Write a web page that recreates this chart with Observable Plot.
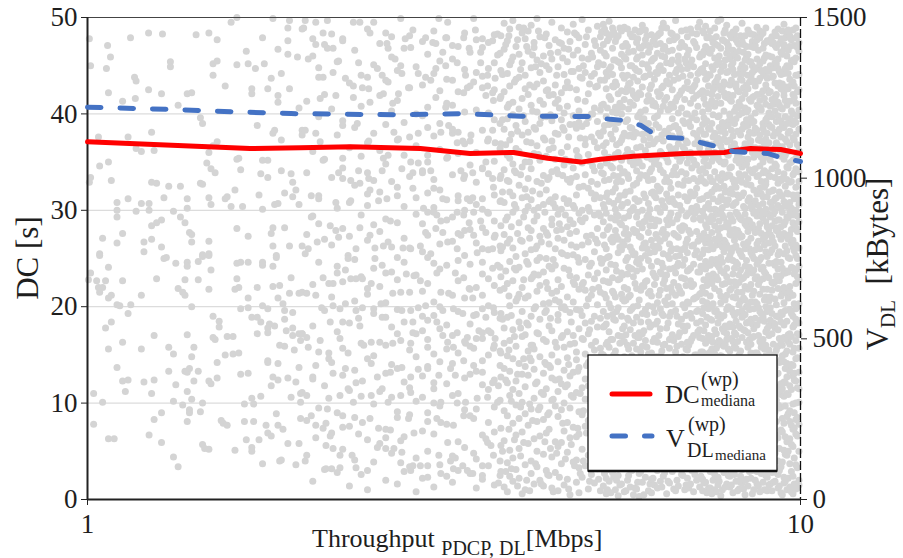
<!DOCTYPE html>
<html><head><meta charset="utf-8">
<script src="https://cdn.jsdelivr.net/npm/d3@7"></script>
<script src="https://cdn.jsdelivr.net/npm/@observablehq/plot@0.6"></script>
<style>
body{margin:0;background:#fff;}
#chart svg text, #chart svg tspan { font-family: 'Liberation Serif', 'Times New Roman', serif !important; }
</style>
</head><body><div id="chart"></div>
<script>
// ---- axis ticks ----
const xTicks = [1, 10];
const dcTicks = [0, 10, 20, 30, 40, 50];
const vTicks = [0, 500, 1000, 1500];

// ---- median lines ----
const dcMedX = [1.00, 1.69, 1.99, 2.34, 2.93, 3.44, 3.96, 4.42, 4.92, 5.24, 5.83, 6.85, 7.82, 8.07, 8.51, 9.38, 10.0];
const dcMedY = [37.1, 36.4, 36.5, 36.6, 36.4, 35.9, 36.0, 35.4, 35.0, 35.3, 35.6, 35.9, 36.0, 36.2, 36.4, 36.3, 35.9];
const vMedX = [1.00, 1.31, 1.59, 1.93, 2.75, 3.34, 4.05, 5.08, 5.41, 5.72, 5.97, 6.22, 6.51, 6.96, 7.24, 7.73, 8.05, 8.51, 8.99, 9.49, 10.0];
const vMedY = [1221, 1214, 1207, 1201, 1197, 1201, 1193, 1192, 1183, 1179, 1164, 1139, 1127, 1123, 1111, 1095, 1083, 1080, 1077, 1061, 1052];

// ---- scatter (throughput Mbps, DC s) ----
const scatterPairs = `
1.006,47.8 1.067,47.1 1.077,45.9 1.01,45.0 1.063,44.7 1.149,47.9 1.218,48.4 1.274,48.3 1.07,42.2 1.164,43.8 1.17,43.4 1.218,42.5 1.167,41.6 1.12,41.3 1.27,42.1 1.307,45.4 1.307,44.9 1.34,40.9 1.38,42.1 1.40,42.2 1.42,48.2 1.48,48.4 1.52,47.7 1.50,45.2 1.52,45.5 1.50,44.0 1.56,42.9 1.59,49.5 1.62,50.0 1.62,45.1 1.67,46.5 1.68,45.2 1.72,44.7 1.70,42.6 1.70,42.1 1.76,47.9 1.77,45.2 1.79,42.6 1.81,43.7 1.82,49.9 1.85,46.7 1.87,44.2 1.85,41.9 1.85,41.2 1.91,48.9 1.92,49.7 1.91,47.6 1.91,46.2 1.97,45.9 1.92,42.6 1.98,40.6 2.0,48.8 2.0,38.3
1.036,37.6 1.14,37.6 1.23,38.1 1.44,39.6 1.45,39.0 1.52,37.1 1.50,36.7 1.73,38.8 1.83,38.3 1.82,38.0 1.87,37.3 2.0,37.8
1.17,36.4 1.24,36.2 1.19,36.1 1.48,36.0 1.04,34.6 1.07,35.0 1.01,33.4 1.006,32.9 1.08,33.1 1.23,32.9 1.25,32.8 1.30,32.5 1.35,32.5 1.47,34.9 1.49,34.3 1.51,33.9 1.63,35.4 1.62,35.3 1.64,34.2 1.44,32.8 1.45,32.7 1.76,35.2 1.79,35.2 1.75,33.8 1.79,33.4 1.87,34.1 1.93,33.8 1.94,32.9 1.96,32.1
1.10,30.8 1.10,30.0 1.10,29.3 1.14,31.2 1.19,30.7 1.17,29.9 1.22,30.7 1.22,30.0 1.28,31.3 1.23,28.4 1.25,28.7 1.27,29.0 1.32,29.9 1.35,29.3 1.37,28.7 1.38,31.2 1.38,30.2 1.39,27.7 1.40,27.5 1.40,26.7 1.48,31.3 1.49,30.6 1.56,31.2 1.57,31.4 1.59,30.4 1.61,32.1 1.65,30.4 1.76,30.1 1.74,31.6 1.83,30.6 1.85,30.7 1.89,31.8 1.94,31.4 1.98,30.6 1.05,27.1 1.12,27.6 1.10,26.6 1.04,25.5 1.20,26.7 1.23,27.0 1.20,25.7 1.27,26.2 1.29,25.1 1.45,25.4 1.48,25.5 1.48,26.8 1.62,28.1 1.68,27.3 1.81,27.6 1.82,28.2 1.89,28.2 1.82,26.3 1.84,25.3 1.92,26.3 2.0,26.3
1.04,25.3 1.01,23.5 1.003,22.8 1.03,22.7 1.06,22.7 1.036,22.0 1.05,22.0 1.04,21.5 1.07,24.1 1.07,20.9 1.08,21.2 1.10,20.2 1.11,20.1 1.15,20.2 1.14,19.3 1.12,22.7 1.19,21.2 1.25,22.9 1.28,25.0 1.33,24.5 1.38,24.6 1.38,24.2 1.43,24.7 1.45,25.2 1.48,25.3 1.49,23.8 1.37,22.8 1.43,22.8 1.34,21.9 1.36,21.5 1.37,21.2 1.40,20.0 1.48,21.8 1.62,24.5 1.64,24.6 1.68,24.6 1.76,24.6 1.76,24.3 1.82,24.2 1.84,25.1 1.62,22.9 1.61,21.8 1.63,22.0 1.73,22.0 1.82,22.1 1.86,22.2 1.93,23.0 1.92,21.4 1.98,21.4 2.0,21.5 1.85,20.9 1.88,20.3 1.68,20.9 1.64,19.8 1.68,19.9 1.76,20.1 1.79,19.8 1.89,19.6 1.94,19.4 1.70,18.9 1.73,18.9 1.75,18.4 1.79,17.8 1.80,18.2 1.83,18.0 1.89,18.7 1.90,17.5 1.94,17.8 1.98,17.2 2.0,17.2 1.94,17.0 1.99,16.5 1.79,17.3 1.73,17.2 1.50,19.0 1.53,18.5 1.53,17.9 1.50,16.8 1.51,16.6 1.57,16.9 1.60,16.9 1.56,15.0 1.60,15.1 1.63,15.2 1.38,17.1 1.41,15.8 1.40,14.8 1.30,15.8 1.32,15.1 1.24,17.0 1.19,15.6 1.12,16.3 1.06,17.8 1.08,18.4 1.07,15.6 1.10,13.7 1.12,12.3 1.14,12.4 1.13,11.2 1.20,12.2 1.24,12.4 1.23,11.0 1.30,13.3 1.33,11.9 1.37,13.3 1.38,13.2 1.39,13.6 1.43,13.3 1.41,12.3 1.48,12.3 1.49,12.0 1.52,12.6 1.52,14.2 1.38,11.2 1.40,10.4 1.32,10.2 1.36,9.8 1.39,9.3 1.39,9.0 1.44,9.1 1.45,10.0 1.38,8.1 1.27,9.0 1.24,8.3 1.22,6.7 1.27,5.9 1.32,4.4 1.34,3.4 1.45,5.7 1.46,5.3 1.48,5.2 1.54,8.2 1.55,7.9 1.57,7.7 1.61,5.1 1.66,9.9 1.71,9.9 1.70,10.5 1.66,8.1 1.71,8.1 1.67,6.2 1.70,5.4 1.70,5.0 1.74,6.2 1.76,3.7 1.75,10.7 1.64,13.0 1.68,13.1 1.79,14.2 1.79,14.4 1.81,11.8 1.82,12.7 1.85,12.4 1.84,8.9 1.78,7.7 1.79,6.9 1.81,6.6 1.85,7.7 1.88,7.3 1.91,5.8 1.87,4.1 1.86,4.0 1.96,3.6 1.98,5.8 1.99,8.4 1.93,10.6 1.99,10.1 1.99,11.0 1.96,12.2 1.91,12.6 1.98,13.7 1.95,15.5 1.85,14.1 1.86,16.0 1.89,15.9 1.02,7.8 1.02,11.0 1.05,10.1 1.07,6.3 1.09,6.3
2.01,48.9 2.02,49.7 2.09,49.5 2.17,49.7 2.14,48.4 2.07,47.8 2.09,47.2 2.17,46.8 2.21,46.8 2.28,47.8 2.36,49.5 2.41,49.5 2.49,48.4 2.52,49.5 2.62,48.4 2.63,47.3 2.64,46.8 2.75,49.9 2.79,47.8 2.86,48.7 2.84,46.9 2.98,47.9 3.05,47.4 3.08,47.3 3.11,49.9 3.20,49.5 3.18,47.9 3.25,47.1 3.15,46.4 3.37,47.9 3.48,49.9 3.50,48.7 3.43,46.8 3.56,46.4 3.58,47.8 3.70,47.6 3.76,48.3 3.76,46.1
2.04,45.7 2.11,43.8 2.14,43.8 2.21,44.3 2.25,45.5 2.30,43.7 2.36,42.9 2.43,42.7 2.48,42.6 2.40,45.3 2.55,44.7 2.59,44.0 2.64,43.3 2.70,45.7 2.75,45.0 2.76,44.2 2.82,42.7 2.73,42.1 2.60,42.1 2.91,44.2 2.98,43.8 3.03,43.5 3.08,44.7 3.18,45.0 3.25,43.5 3.30,45.3 3.39,44.0 3.37,42.2 3.41,42.7 3.48,43.3 3.58,42.7 3.64,42.9 3.70,42.2 3.56,45.3 3.64,44.0 3.73,43.7 3.71,41.4 3.62,41.9 2.12,41.6 2.23,41.9 2.36,41.7 2.49,41.2 2.68,41.1 3.08,41.7 3.18,40.7
2.02,38.3 2.09,38.0 2.12,37.1 2.28,38.8 2.39,39.0 2.48,37.2 2.69,38.1 2.73,37.4 2.91,38.0 3.00,38.6 3.13,38.1 3.21,38.8 3.25,38.0 3.36,37.2 3.30,37.0 3.45,37.8 3.64,37.2 3.70,38.3 3.73,37.0
2.14,35.2 2.25,33.9 2.28,33.3 2.34,33.1 2.40,34.1 2.47,33.9 2.48,33.3 2.41,32.8 2.49,32.1 2.59,34.1 2.64,35.7 2.60,35.4 2.76,34.3 2.84,35.0 2.86,33.9 2.95,33.9 2.91,34.9 3.03,34.1 3.06,32.3 3.15,31.2 3.00,35.7 3.20,35.5 3.34,34.1 3.37,33.3 3.47,33.9 3.58,34.4 3.62,35.0 3.70,33.3 3.71,32.4 3.58,31.2 3.41,31.2 3.31,31.0 3.47,31.3 2.86,32.3 2.72,31.5 2.63,31.2 2.56,31.0 2.47,30.5 2.34,31.0 2.23,30.8 2.11,31.5 2.06,31.5 2.28,35.4
2.06,29.3 2.11,28.6 2.19,28.4 2.23,27.9 2.25,27.2 2.41,28.2 2.49,27.4 2.66,28.9 2.53,26.1 2.60,26.3 2.64,26.7 2.77,26.1 2.84,26.0 2.96,30.2 3.00,29.8 3.06,30.3 3.09,29.5 3.13,28.9 3.08,28.1 3.15,27.7 3.20,26.7 2.98,27.7 2.93,26.3 3.03,25.5 3.30,29.8 3.37,29.5 3.43,28.7 3.48,29.8 3.56,28.9 3.62,27.7 3.48,27.4 3.34,27.4 3.30,26.0 3.52,25.6 3.73,27.4 3.70,26.0 3.64,29.8 2.04,26.0 2.10,26.7 2.02,25.5 2.38,26.0 2.32,25.3
2.03,21.4 2.09,21.2 2.14,23.0 2.18,22.4 2.21,22.4 2.24,23.5 2.30,23.8 2.32,25.0 2.34,22.9 2.38,22.9 2.43,22.9 2.47,21.9 2.50,22.4 2.53,25.0 2.59,24.3 2.62,23.5 2.68,21.4 2.75,21.5 2.72,25.1 2.80,23.4 2.87,23.2 2.93,22.7 3.00,25.1 3.09,23.5 3.13,21.5 3.21,21.4 3.28,23.5 3.37,23.0 3.43,21.9 3.47,20.9 3.58,21.2 3.58,24.6 3.70,24.0 3.76,24.3
2.13,19.9 2.21,20.1 2.26,19.8 2.30,20.3 2.38,19.6 2.43,19.9 2.52,19.8 2.58,20.3 2.76,19.6 2.84,19.6 2.91,19.9 2.98,20.1 3.06,19.1 3.15,19.6 3.26,19.8 3.36,19.3 3.48,19.1 3.62,18.9 3.71,19.9 2.19,18.4 2.28,18.4 2.40,18.8 2.41,18.0 2.59,18.9 2.72,17.2 2.86,18.4 2.86,17.3 2.95,17.5 3.09,18.4 3.15,17.0 3.30,17.3 3.41,16.8 3.54,17.5 3.68,17.3 3.73,16.7
2.0,17.2 2.04,15.8 2.12,16.5 2.18,15.2 2.26,16.7 2.32,15.2 2.44,16.0 2.50,16.3 2.62,16.0 2.68,16.2 2.75,16.5 2.84,16.2 3.00,15.8 3.20,16.3 3.26,15.8 3.39,16.2 3.48,15.7 3.58,16.7 3.71,15.7 2.09,13.9 2.07,12.7 2.18,14.6 2.21,13.1 2.30,13.6 2.38,12.1 2.43,12.3 2.50,14.1 2.55,12.7 2.59,11.5 2.66,13.2 2.76,13.7 2.84,12.7 2.91,13.5 3.00,13.6 3.06,12.1 3.11,12.9 3.23,13.6 3.28,12.9 3.37,14.4 3.48,13.9 3.58,13.2 3.70,12.1 3.77,11.8
2.0,11.1 2.03,10.8 2.18,10.5 2.17,9.4 2.26,10.8 2.32,11.5 2.36,10.1 2.50,10.8 2.64,10.1 2.75,10.8 2.84,11.1 2.95,10.6 3.06,11.5 3.13,10.1 3.30,10.0 3.39,10.1 3.52,10.5 3.64,10.6 3.76,10.1 2.06,8.7 2.09,7.7 2.16,7.9 2.19,6.6 2.14,7.4 2.28,8.7 2.28,7.5 2.40,6.8 2.43,8.0 2.49,8.4 2.62,6.4 2.66,7.2 2.72,8.5 2.75,6.1 2.82,8.4 2.87,6.9 3.00,9.0 3.09,8.4 3.13,8.0 3.26,7.7 3.37,8.7 3.48,8.4 3.62,6.3 3.68,5.6 2.56,7.4
2.02,4.0 2.09,6.4 2.16,5.6 2.21,5.3 2.26,4.6 2.16,3.2 2.20,3.2 2.26,3.3 2.38,3.3 2.47,3.0 2.55,5.4 2.62,5.3 2.69,5.3 2.76,4.9 2.75,3.8 2.84,3.0 2.86,3.5 2.93,3.5 3.00,3.5 3.00,2.3 3.13,2.7 3.11,4.6 3.20,5.9 3.23,4.0 3.28,4.3 3.26,3.2 3.36,3.5 3.41,3.0 3.47,2.7 3.48,4.8 3.58,3.5 3.58,2.5 3.64,5.9 3.71,4.6 3.77,1.7 2.35,4.6
`;

// denser parts, listed by throughput column: throughput | DC values
const scatterColumns = `
2.03|8.2 27.5 41.3 16.8 33.9 4.6
2.07|36.1 12.5 22.3 46.0 29.4 1.9 18.0
2.11|24.6 44.8 9.5 31.2 15.3 39.7
2.15|3.1 19.6 35.3 47.2 27.0 11.8 42.0
2.20|40.5 14.2 26.4 6.9 33.4 21.0 48.3
2.24|17.4 30.2 45.4 2.8 37.8 9.0 24.2
2.28|47.6 22.6 12.9 39.3 5.2 28.1 34.4 15.7
2.33|27.3 7.6 43.2 18.3 36.5 1.4 30.8 11.3
2.37|13.4 38.6 24.9 46.6 8.5 20.6 32.6 4.1
2.42|35.6 2.6 29.5 16.2 44.0 10.7 23.1 40.8
2.47|21.3 48.8 14.6 37.0 6.2 31.7 26.9 1.0 43.8
2.52|9.9 33.1 19.3 45.1 3.9 28.5 38.0 14.9 24.0
2.57|41.9 16.3 27.8 5.8 36.2 11.2 47.3 22.1 31.9
2.62|2.0 29.1 20.4 43.5 13.1 38.9 7.3 34.8 18.9
2.67|26.2 10.6 45.9 17.9 33.0 4.8 40.3 23.6 14.0 48.0
2.72|37.3 13.6 1.6 28.7 22.8 44.5 9.1 32.4 19.7 41.4
2.78|18.4 46.8 30.4 6.5 24.6 39.1 12.2 35.7 2.9 27.1
2.83|42.7 8.8 21.5 33.5 15.5 48.1 26.1 3.4 37.6 11.6
2.89|29.6 4.3 17.2 44.9 36.7 10.2 23.3 40.0 14.8 31.3 0.8
2.95|12.8 39.8 25.7 7.1 47.5 19.0 34.1 28.6 2.2 43.0 21.6
3.00|35.0 16.6 46.2 8.1 27.4 40.7 13.8 22.4 31.8 5.0 18.6
3.06|24.5 1.3 37.7 15.1 44.2 29.8 10.0 33.2 20.5 48.6 6.8
3.12|45.5 20.0 9.7 32.1 26.5 39.0 3.6 14.3 42.4 23.9 17.7 36.3
3.19|7.8 29.0 41.1 18.1 35.4 12.0 47.9 24.3 2.4 31.1 15.6 43.6
3.25|33.7 14.1 26.8 4.5 38.4 21.2 45.7 10.8 29.3 17.0 40.9 1.8
3.31|19.5 42.3 11.0 35.9 27.6 6.0 47.0 22.7 31.5 15.2 38.1 3.0 24.8
3.38|40.2 5.4 25.3 16.4 44.6 30.0 12.6 36.9 20.9 9.3 33.6 48.4 27.9
3.44|13.0 31.0 46.4 21.8 2.7 37.2 18.2 28.0 42.9 8.7 24.4 34.7 15.9
3.51|26.6 44.3 9.4 19.2 36.0 4.2 30.6 13.3 40.4 22.0 47.7 16.7 32.9 1.2
3.58|38.3 17.3 28.2 6.7 43.9 23.4 11.9 34.3 2.1 46.9 19.8 30.1 14.4 26.0
3.65|11.4 33.8 20.1 47.4 3.5 25.9 40.1 15.0 29.7 8.0 37.4 22.9 44.7 17.5
3.72|22.2 45.3 7.0 31.6 16.0 39.4 1.5 27.2 12.4 35.1 48.2 19.4 42.5 9.6 28.9
3.79|30.9 13.9 41.6 4.0 24.1 36.4 18.8 46.3 10.3 33.3 21.7 2.5 39.0 26.3 15.4
3.80|23.1 7.4 41.8 15.2 33.6 2.9 48.1 28.4 12.7 36.9 19.3 44.5 5.6 31.0 25.8
3.82|18.7 44.1 5.0 31.9 26.2 39.4
3.84|9.2 46.7 17.8 38.4 1.3 27.5 21.9 34.2 13.6 42.3 6.1 30.8 49.4 16.2
3.86|2.9 23.7 36.8 12.4 47.2 29.0
3.88|35.7 12.1 3.8 44.2 26.6 18.9 39.5 8.7 29.3 47.6 22.4 0.8 14.9 33.1 40.7
3.90|41.0 15.5 7.3 33.0 21.1 48.1
3.91|27.0 5.1 42.9 16.5 37.3 10.8 24.7 48.8 31.9 2.4 20.1 45.1 13.3 35.4
3.93|10.2 28.3 45.5 19.1 37.9 3.2
3.95|17.6 39.9 7.9 29.8 45.9 22.7 1.9 34.8 11.4 26.1 49.7 14.6 41.2 4.3 31.5
3.97|34.1 6.2 24.0 43.3 16.9 30.6
3.99|43.6 20.6 9.8 36.4 25.2 3.1 47.0 15.9 30.2 12.3 38.8 23.8 6.7 33.9
4.01|20.9 47.7 13.0 1.4 38.2 27.6
4.03|11.0 28.7 46.2 18.4 40.5 2.2 32.6 24.1 8.4 43.8 14.1 36.1 21.3 49.0 5.3
4.05|44.6 26.9 9.6 33.7 17.8 4.5
4.07|37.8 16.9 26.8 0.6 45.3 10.1 31.3 22.0 41.6 7.0 34.5 19.5 48.4 13.0
4.09|5.9 39.8 22.8 14.6 48.9 29.3
4.11|25.5 3.6 39.2 13.8 29.9 47.8 20.9 8.9 35.0 17.1 44.0 1.0 32.2 11.7 42.6
4.13|31.4 18.3 47.0 2.0 24.7 37.1
4.15|7.7 42.0 18.1 33.3 24.4 46.5 12.9 38.1 5.8 28.2 15.4 21.1 48.6 30.4
4.17|14.7 35.0 0.9 27.1 43.0 9.9
4.19|31.1 14.4 44.8 4.0 22.9 37.0 9.4 27.9 49.2 19.0 40.9 2.7 34.3 16.0 25.9
4.21|40.3 23.1 8.2 46.1 32.0 16.0
4.23|19.8 46.9 10.5 35.9 1.6 28.9 23.4 42.8 13.5 6.3 38.6 30.0 15.6 47.4
4.25|26.0 12.0 38.4 3.7 20.0 44.9
4.27|40.2 8.1 26.3 17.3 45.6 33.0 3.4 21.6 36.7 12.2 29.4 49.9 5.0 24.8 43.1
4.29|9.3 30.3 48.6 17.2 35.8 23.3
4.31|2.0 35.2 22.2 14.8 48.0 27.3 9.6 41.4 18.7 31.7 6.6 39.0 25.1 44.3
4.33|45.2 1.6 26.7 11.1 39.6 32.8
4.36|28.1 13.1 43.4 20.3 4.7 37.5 16.6 33.6 10.9 46.0 23.6 1.4 30.6 41.0 8.3
4.38|19.4 37.3 6.0 29.8 14.2 47.9
4.40|16.4 45.0 6.9 32.1 25.0 39.7 11.5 19.6 48.3 3.0 35.6 27.7 14.0 42.4 22.5
4.42|33.2 8.8 42.5 21.9 2.6 27.4
4.44|36.3 9.0 24.2 47.1 18.0 30.9 2.5 41.9 13.9 26.5 7.3 44.6 33.4 20.4
4.46|13.7 46.3 31.1 5.3 18.8 39.9
4.48|23.9 4.4 39.3 15.0 29.1 49.5 10.3 34.0 21.4 45.7 1.2 17.5 37.2 12.6 28.5
4.50|36.5 24.9 0.8 42.0 10.4 30.7
4.53|12.4 43.0 31.4 6.0 20.7 38.0 26.0 47.7 16.3 2.8 35.3 9.7 41.1 24.3 30.3
4.55|4.8 21.6 44.0 15.8 34.2 27.9
4.57|41.5 18.6 8.6 33.8 27.1 46.4 0.9 22.8 14.3 37.9 11.2 29.6 5.5 44.9 19.2
4.59|28.6 40.6 12.5 47.4 2.3 20.5
4.62|5.9 30.1 47.3 19.9 36.0 12.0 25.6 42.2 3.7 16.8 39.4 28.0 9.3 48.9 22.1
4.64|17.0 33.6 7.9 25.5 45.8 38.6
4.66|34.7 15.8 26.9 44.1 7.1 20.0 38.3 1.5 31.2 13.4 46.8 24.0 10.0 40.1
4.68|42.7 4.2 29.5 19.7 11.7 35.3
4.71|21.0 2.1 45.4 11.9 28.3 36.6 17.4 48.5 8.0 33.2 25.3 40.8 14.7 4.9 30.7 43.3
4.73|23.8 46.7 14.0 1.1 37.6 31.0
4.75|9.5 38.9 23.2 0.5 32.9 16.1 47.5 27.6 12.8 42.7 19.4 6.4 35.1 29.0
4.77|10.8 33.3 26.4 44.4 18.4 5.7
4.80|46.1 13.2 30.5 20.5 3.9 39.8 25.4 10.6 34.4 17.0 44.4 7.5 28.6 49.3 22.6
4.82|38.9 16.2 3.5 30.2 48.4 22.3
4.85|27.8 6.5 42.5 15.3 36.2 1.8 23.0 31.6 11.1 48.2 19.7 38.5 4.1 33.5 14.5 26.2
4.87|7.4 25.1 41.5 13.3 35.6 46.6
4.89|17.7 35.5 3.3 44.7 24.6 9.1 29.7 40.3 13.7 21.8 47.9 6.8 32.4 39.1 0.7
4.91|29.0 19.6 2.7 43.8 11.0 37.5
4.94|38.7 11.6 22.3 49.8 30.0 5.2 16.7 43.7 26.4 8.8 34.9 19.1 45.8 2.3 28.8
4.96|45.0 32.5 9.2 22.5 16.6 4.0
4.99|3.5 29.2 18.3 41.3 12.5 37.4 24.9 47.2 7.6 33.7 15.1 21.7 44.3 10.4 36.8
5.01|20.1 39.0 27.3 6.9 48.0 13.9
5.04|32.3 20.8 45.7 1.1 26.7 14.2 39.6 8.2 30.3 48.7 17.2 4.6 35.8 23.3 42.1 11.8
5.06|35.1 1.9 17.6 29.9 43.1 24.2
5.09|14.0 43.9 6.2 24.5 37.6 18.5 2.6 31.8 10.7 46.3 27.4 21.2 40.0 16.0 33.0
5.11|12.1 45.9 34.6 8.0 21.8 40.0
5.14|25.7 8.5 40.6 19.0 47.6 12.3 34.1 4.2 29.5 22.9 44.2 15.5 37.1 1.7 31.2
5.16|27.0 5.6 42.8 16.4 31.6 47.1
5.19|44.9 17.9 3.2 28.1 36.5 10.2 23.5 49.1 13.6 39.2 6.7 32.7 20.2 26.6 42.9
5.21|38.0 22.0 10.9 2.1 29.7 45.3
5.24|6.1 34.6 21.5 46.6 15.7 29.4 0.9 40.4 25.0 11.3 37.7 18.8 48.0 8.9 31.3 43.5
5.26|15.1 33.9 24.5 48.5 7.0 40.9
5.29|12.6 38.2 3.9 27.4 45.1 19.5 8.3 33.8 22.7 49.3 15.0 41.0 30.6 1.4 24.9 36.7 10.8 47.2 17.9 28.8
5.31|7.8 33.1 21.3 46.3 14.1 38.8 2.7 26.4 43.5 18.0 30.2 10.6 48.8 36.0
5.34|31.4 6.8 44.3 20.9 14.5 39.7 2.2 26.0 48.4 11.7 34.9 18.2 42.6 23.8 9.4 29.7 0.6 37.0 16.1 46.0
5.36|40.6 16.3 28.0 4.4 35.2 22.6 47.6 11.9 31.8 1.0 25.1 43.9 19.0 8.8
5.39|20.3 47.9 9.9 35.5 25.2 3.1 41.8 15.8 30.9 12.9 44.6 22.5 6.0 38.9 28.3 17.4 49.6 33.2 1.9
5.42|24.4 3.5 44.9 13.3 37.9 29.2 9.0 48.2 19.9 34.6 0.7 41.5 16.6 27.0
5.45|42.9 16.6 27.2 4.5 37.4 10.3 23.0 46.8 31.9 13.7 40.2 7.7 19.2 34.4 26.7 48.9 2.8 21.6 44.1 11.0
5.47|12.9 45.6 30.7 21.4 6.1 39.0 15.0 26.9 48.5 2.3 35.4 18.7 42.8 33.6
5.50|8.6 29.0 45.6 18.6 35.8 1.0 24.3 40.7 13.2 32.3 21.0 47.5 5.3 38.4 15.4 27.9 43.3 10.5 30.1
5.52|36.8 19.5 2.0 27.3 43.0 10.9 32.9 23.7 47.9 7.6 14.8 40.1 29.6 4.9
5.55|36.0 14.3 2.5 25.6 42.1 19.9 48.1 8.0 31.1 22.8 39.1 11.4 45.4 27.0 4.7 17.0 33.5 29.4 40.6 0.4
5.58|1.5 28.7 41.1 16.2 34.4 8.6 45.3 22.9 12.3 37.0 26.2 48.9 5.8 31.5
5.61|23.5 46.2 10.0 33.0 16.9 40.0 5.6 28.5 21.3 44.8 1.6 37.3 13.0 30.4 48.6 19.0 25.9 8.8 35.2 42.4
5.63|44.0 11.6 23.3 37.6 3.8 30.6 17.7 47.0 26.7 8.3 40.7 14.0 20.8 33.9
5.66|3.4 31.6 18.0 43.7 26.4 11.9 38.0 22.0 49.0 7.2 34.0 14.8 41.5 29.2 0.8 20.6 45.9 16.4 27.6
5.69|20.7 35.7 6.7 47.3 13.9 28.1 42.3 0.9 24.8 39.2 17.1 9.7 31.9 45.7
5.72|39.4 12.2 27.0 6.4 47.0 21.8 33.7 2.0 16.0 44.0 25.1 9.6 36.3 30.8 18.8 42.7 4.3 23.4 48.8 13.5
5.74|29.4 2.5 40.5 18.6 33.3 11.2 46.4 24.1 6.5 37.7 15.6 43.1 27.5 21.0
5.77|19.6 45.0 7.9 29.9 37.8 14.0 24.0 1.3 41.2 32.0 10.9 48.3 17.6 26.2 35.1 5.0 43.2 21.2 38.6
5.80|9.4 42.4 25.8 14.9 35.9 3.0 30.0 48.0 19.8 38.5 7.3 23.9 45.0 12.6
5.83|28.0 4.0 40.9 16.2 23.1 46.5 11.1 34.7 0.5 20.0 30.3 43.8 8.1 37.6 25.4 13.8 48.0 32.6 18.3 42.0
5.86|38.1 17.0 31.2 5.4 44.7 22.4 10.7 35.0 27.7 1.2 41.8 13.5 48.7 25.5
5.89|10.4 36.5 21.9 47.4 3.6 27.8 15.6 41.6 32.8 6.9 24.6 45.7 18.9 38.0 12.8 29.3 1.1 34.1 44.5 23.7
5.91|16.8 47.8 1.8 29.8 39.7 8.7 24.9 34.9 13.2 43.4 20.1 5.3 30.9 45.9
5.94|44.4 17.3 31.0 9.2 39.9 24.4 2.7 35.0 13.9 48.5 20.7 27.3 6.3 42.2 16.8 33.3 11.6 46.9 28.6 0.3
5.97|33.7 6.8 21.7 46.8 15.3 40.2 27.2 2.9 36.6 11.8 25.0 48.6 18.4 42.0
6.00|26.1 1.8 37.9 12.0 46.1 19.3 30.0 7.5 42.8 22.2 34.6 15.9 49.2 4.1 28.2 39.3 10.2 23.9 45.2 17.2
6.03|22.1 43.8 11.4 31.7 4.2 37.3 17.5 28.8 47.1 8.1 39.5 14.6 26.5 0.5
6.06|14.1 40.4 5.7 25.3 33.6 47.7 19.7 9.0 36.2 28.9 2.3 43.9 16.5 31.3 22.6 11.3 48.7 38.7 26.6 6.5
6.09|45.1 26.0 3.9 38.0 19.2 10.3 33.5 48.1 22.7 6.4 41.3 29.3 15.8 35.5
6.12|33.1 21.4 47.1 0.9 15.1 41.9 27.7 8.5 36.8 12.4 24.8 44.7 18.4 3.3 30.7 39.0 20.1 10.6 46.4 29.6
6.15|5.1 30.1 17.9 42.6 25.6 37.5 12.8 46.9 1.6 21.6 34.0 9.3 44.1 28.4
6.18|6.6 29.1 18.1 43.0 11.2 35.3 24.2 48.2 2.1 38.3 15.2 31.8 21.1 45.5 8.4 26.9 41.4 13.3 34.3 0.7
6.21|36.9 14.3 26.3 2.2 45.7 31.9 20.0 8.0 40.9 23.5 16.4 47.5 33.2 11.1
6.24|41.1 9.8 34.8 22.3 1.5 28.4 45.8 16.7 37.1 5.4 25.7 12.5 47.8 31.5 19.4 43.6 7.0 23.2 39.6 14.4
6.27|18.2 40.8 6.3 29.0 12.1 35.3 47.2 23.0 3.4 38.9 27.5 14.8 44.3 31.3
6.30|18.5 46.3 3.0 30.2 13.6 39.8 24.7 8.7 35.6 20.4 48.1 27.1 10.1 42.3 32.5 1.2 16.3 44.2 26.3 37.4
6.33|28.9 3.7 44.8 21.2 34.7 9.9 17.0 48.3 26.1 38.6 6.9 41.8 13.4 32.0
6.36|29.8 14.9 42.0 7.3 23.6 36.1 1.9 47.3 19.8 32.2 11.8 40.3 26.8 5.9 45.0 17.7 34.2 21.7 9.5 48.4
6.39|10.5 37.8 23.4 46.0 15.4 31.0 1.3 42.7 19.3 27.7 35.9 8.5 48.9 24.5
6.42|2.4 37.2 22.4 11.5 44.5 28.0 16.0 40.8 6.2 33.9 25.5 49.4 13.1 19.1 30.5 42.9 8.9 35.7 24.1 46.7
6.45|41.4 20.6 9.1 33.0 27.1 4.0 45.9 16.1 38.2 12.0 30.3 22.8 47.0 2.8
6.49|35.4 20.2 48.9 9.3 27.5 14.6 41.7 3.8 31.7 23.3 45.3 17.8 38.1 0.6 12.7 29.0 43.4 21.9 6.1 33.4
6.52|25.3 46.5 14.4 37.9 6.6 21.0 31.2 43.2 10.2 28.5 1.9 35.0 18.3 40.4
6.55|13.4 43.1 26.5 4.4 38.5 19.0 32.9 10.7 47.6 23.9 1.7 36.6 16.6 29.3 44.0 8.2 25.0 40.5 30.9 15.7
6.58|3.6 32.3 41.0 19.4 11.5 45.2 25.8 36.3 7.7 16.7 29.7 48.4 22.0 13.1
6.61|45.6 7.6 31.2 21.5 39.5 12.1 48.3 26.0 2.9 35.9 17.1 42.5 9.7 28.7 20.3 46.6 4.8 33.7 14.2 37.7
6.64|38.7 16.5 27.6 5.0 43.5 34.1 13.6 22.5 47.7 8.6 30.8 1.1 40.7 24.0
6.68|21.2 38.8 0.9 15.3 30.6 44.3 7.8 25.2 47.9 11.7 34.5 19.6 41.3 3.5 27.4 36.4 13.9 23.5 49.7 9.1
6.71|12.5 44.6 24.2 35.6 2.0 19.0 41.7 29.1 9.0 33.7 15.9 48.0 26.0 6.2
6.74|32.7 11.0 46.0 24.5 5.2 40.1 18.2 29.5 14.7 43.7 1.4 36.9 22.1 8.0 45.4 27.2 16.9 38.4 31.6 12.9
6.77|30.5 7.2 46.9 17.3 38.0 25.3 11.3 42.0 21.7 3.3 35.1 14.5 28.2 44.9
6.81|4.9 27.9 16.1 42.4 34.0 9.4 21.4 47.4 13.2 37.5 25.9 2.6 44.6 18.7 30.0 40.6 7.1 35.4 23.0 48.6
6.84|20.2 39.3 2.5 28.4 14.8 47.1 32.6 8.8 24.3 43.9 18.0 36.6 5.5 11.0
6.88|39.0 22.9 10.9 31.4 47.0 17.5 3.7 28.3 42.7 14.4 36.3 6.8 24.9 45.7 19.9 33.1 11.4 41.5 26.1 1.0
6.91|45.3 11.7 33.8 22.2 4.6 40.0 15.6 29.4 48.7 26.6 9.8 37.2 19.1 1.5
6.94|16.3 44.7 29.6 2.2 37.0 23.7 12.3 48.0 20.5 8.3 34.9 27.0 40.0 5.6 15.5 43.3 31.0 18.0 46.1 25.6
6.97|8.3 27.9 42.6 16.0 35.5 1.2 23.8 46.6 12.7 31.3 20.4 39.1 5.9 33.1
7.01|27.6 6.0 35.8 19.3 44.0 13.6 1.6 31.9 24.0 41.1 10.0 38.7 16.4 48.8 22.7 4.5 29.8 45.1 12.0 36.0
7.04|34.4 18.8 6.1 45.6 26.3 13.1 39.6 22.1 3.0 30.2 48.4 10.4 42.4 16.7
7.08|9.7 41.6 24.4 14.0 33.3 47.5 3.2 20.8 38.0 29.1 7.4 44.9 17.0 26.4 35.2 0.8 42.8 22.3 11.9 31.5
7.11|15.0 40.1 29.7 2.6 20.9 47.3 34.8 9.6 25.4 43.0 12.6 36.9 6.9 31.7
7.15|46.9 18.3 30.4 5.5 39.4 25.8 11.0 43.5 21.0 2.0 34.7 15.0 48.3 27.8 8.6 37.8 19.5 32.3 41.9 13.7
7.18|26.8 4.7 37.4 19.6 44.2 11.9 30.0 49.0 17.4 8.2 40.8 23.6 33.0 14.9
7.22|23.6 1.3 38.3 13.0 45.9 29.2 17.6 6.7 34.1 42.1 21.3 49.5 10.5 27.3 36.5 4.0 16.8 31.1 44.4 25.1
7.25|42.2 21.4 12.2 33.4 7.5 46.2 27.0 18.5 38.3 2.4 29.0 15.3 44.6 24.2
7.29|31.2 8.6 44.7 19.3 2.1 37.0 25.5 13.8 48.6 22.0 6.4 40.2 29.9 16.7 34.3 10.9 46.1 27.1 0.9 42.4 20.6 35.8 4.7 15.3 38.9 24.1
7.32|4.0 27.6 41.6 17.5 33.0 9.7 46.5 22.8 13.3 37.9 29.4 1.7 44.3 19.9 35.1 7.4 25.9 48.4 11.9 39.6
7.36|14.5 39.1 23.9 1.8 47.0 30.3 9.2 35.4 18.1 43.6 26.6 5.1 32.8 12.4 49.1 21.4 37.9 7.8 28.5 16.2 45.2 3.4 24.7 41.0 11.1 33.9
7.39|36.9 12.8 24.2 46.8 5.2 31.5 18.9 42.2 8.4 28.2 39.3 15.1 0.7 34.7 22.2 47.9 10.9 26.9 43.7 20.4
7.43|46.4 5.9 27.2 17.0 38.5 10.4 31.6 22.7 1.2 42.9 14.0 34.6 25.9 8.0 48.0 19.8 36.3 29.1 3.8 44.1 12.9 23.2 40.5 16.5 30.7 7.1
7.47|21.1 44.0 2.9 33.4 15.3 38.4 26.6 9.2 48.6 18.7 30.1 6.6 41.0 12.2 35.9 24.3 46.3 1.2 28.8 16.9
7.51|20.0 36.8 11.6 47.8 26.2 3.0 41.4 16.9 33.0 8.9 44.9 22.4 29.4 13.1 39.0 0.6 24.9 46.7 18.6 35.1 6.2 31.9 42.0 10.1 27.7 15.6
7.54|47.4 16.3 29.1 7.7 39.9 23.4 12.7 35.4 2.0 44.6 20.3 31.2 9.1 26.0 42.5 14.2 37.6 5.6 33.0 22.8
7.58|9.8 28.4 43.2 17.6 34.0 2.6 48.9 21.9 38.0 12.6 30.1 5.3 45.8 24.5 15.1 40.8 27.0 1.0 36.0 19.5 47.3 11.8 32.2 7.5 42.7 23.0
7.62|10.5 35.8 23.1 45.1 3.3 30.0 17.2 41.1 26.4 13.6 48.0 6.3 37.0 19.6 29.6 0.8 43.4 15.7 32.5 24.9
7.66|37.5 13.5 24.3 45.5 4.4 30.9 19.0 41.8 9.6 27.9 49.6 16.0 35.6 2.3 22.8 43.8 12.2 33.4 26.8 6.9 39.7 18.3 47.1 29.7 14.7 1.5
7.69|28.9 4.8 38.6 19.2 46.0 11.7 32.3 24.1 42.9 8.0 35.2 16.5 1.9 27.3 45.3 21.6 13.0 39.8 6.8 31.0
7.73|25.1 46.8 3.2 18.8 35.0 11.0 41.1 28.2 7.3 44.4 20.4 31.4 14.9 49.8 23.7 38.2 5.7 16.3 33.1 26.5 42.5 9.3 36.7 21.1 0.4 30.0
7.77|17.7 42.8 7.0 29.5 37.3 14.8 47.7 22.3 3.4 33.8 26.2 10.1 44.9 19.0 39.1 1.0 24.6 36.2 12.5 30.3
7.81|42.2 6.6 31.1 15.9 26.9 48.4 20.8 37.4 2.8 12.1 45.0 23.5 34.8 9.0 29.2 40.3 17.4 4.2 38.6 25.7 13.2 47.6 32.5 19.1 43.3 10.6
7.84|35.0 13.9 26.7 1.3 43.1 20.7 31.9 8.9 48.7 16.1 38.0 5.1 28.3 41.8 22.4 11.4 45.6 18.0 33.4 3.9
7.88|17.2 33.5 8.1 44.3 24.0 1.6 38.8 28.7 13.0 47.4 21.2 5.0 35.9 16.6 41.7 30.6 10.3 26.4 46.3 3.5 19.7 37.1 23.1 12.8 49.2 32.0
7.92|6.2 31.1 44.4 15.6 24.9 39.2 2.5 20.0 35.7 47.1 11.1 28.6 42.0 17.9 8.2 33.7 26.1 13.4 46.8 38.8
7.96|29.5 2.4 40.0 21.7 12.0 45.7 34.4 6.8 25.3 18.2 43.0 31.8 9.9 48.2 15.4 37.3 27.5 1.3 39.8 22.6 14.1 46.0 33.6 4.9 28.0 41.5
8.00|41.3 21.9 11.8 36.6 4.3 29.2 47.9 16.7 25.7 9.4 43.5 32.2 1.5 19.8 38.3 13.8 27.4 45.0 7.6 34.5
8.04|5.5 23.4 37.7 14.2 46.6 30.5 10.7 41.9 19.4 2.7 33.2 26.1 44.6 16.4 8.5 36.2 28.9 48.5 21.0 12.5 39.3 0.7 24.8 45.3 31.7 17.9
8.08|24.0 3.1 46.1 32.8 13.1 40.3 19.1 28.0 7.3 36.9 48.3 15.9 22.6 44.1 10.2 30.7 2.6 39.0 17.3 26.9
8.12|36.4 15.7 48.8 27.4 4.0 20.9 42.8 11.4 32.4 24.6 7.0 39.5 17.1 45.9 29.8 1.9 35.2 22.2 13.7 43.1 9.5 30.8 26.3 47.7 18.5 40.7
8.16|12.9 38.2 27.9 0.9 45.8 21.5 33.1 9.8 42.4 16.4 29.6 5.9 47.4 24.4 35.6 14.0 40.6 3.6 19.4 31.6
8.20|22.5 44.2 9.1 31.3 18.0 39.9 3.6 27.6 47.2 13.3 35.7 20.2 6.1 42.3 25.8 15.0 33.8 1.1 46.5 29.3 11.3 38.1 23.3 8.7 41.2 34.9
8.24|33.3 17.8 6.0 43.6 25.5 37.8 12.2 48.1 2.4 29.1 20.6 40.8 10.9 35.0 23.8 44.7 15.4 1.8 27.2 8.6
8.28|12.3 29.0 41.6 1.7 34.5 22.9 47.5 16.8 8.3 38.4 25.2 43.5 19.6 5.4 31.5 14.4 49.4 27.3 36.1 10.0 21.5 45.1 3.1 32.9 18.9 40.1
8.32|20.9 46.4 31.8 14.1 3.5 38.9 26.5 9.0 42.7 17.6 35.3 23.0 47.2 6.9 30.4 12.8 44.2 19.1 36.4 1.1
8.36|44.8 19.2 6.3 33.7 26.0 14.6 40.6 2.0 29.6 48.1 11.5 36.9 22.1 9.4 45.6 17.5 30.2 38.7 4.6 24.2 42.1 13.9 28.6 0.5 34.7 20.7
8.40|8.0 26.3 40.2 18.3 47.0 11.9 32.7 23.3 4.1 36.8 14.6 43.0 28.4 20.0 45.9 2.1 34.8 16.3 39.4 24.8
8.44|27.8 10.2 37.6 46.2 18.4 3.9 31.0 23.6 42.6 13.4 35.3 7.2 48.7 20.1 26.7 15.8 40.4 1.4 33.3 44.0 9.7 29.0 21.8 38.8 5.8 17.3
8.48|45.4 13.2 22.0 37.0 5.0 30.9 16.6 41.5 26.0 9.9 48.4 19.7 34.2 2.9 28.9 43.3 11.3 38.1 24.1 31.3
8.52|3.3 39.6 16.1 28.3 45.4 10.8 34.1 22.3 48.3 6.5 30.4 18.7 41.3 25.6 13.6 37.2 2.2 43.9 20.5 32.6 8.8 27.1 47.0 15.2 36.6 11.7
8.56|16.8 39.1 28.5 7.1 44.3 21.2 12.4 33.9 47.5 3.0 25.3 36.0 18.2 41.7 9.2 30.1 0.6 23.5 45.0 14.4
8.60|34.2 21.6 1.0 43.4 12.7 29.7 39.2 7.7 25.0 46.9 17.7 32.1 4.3 38.0 14.8 48.2 23.8 10.5 35.5 19.8 44.5 28.1 6.0 41.8 16.9 30.6
8.64|29.8 5.4 42.9 20.5 34.3 11.1 47.1 25.9 15.2 38.5 2.0 31.0 18.8 44.6 7.9 36.5 22.9 13.7 40.1 27.7
8.69|15.2 47.7 26.5 9.5 36.3 20.3 42.0 2.9 31.7 13.0 44.8 23.1 5.2 38.3 27.9 18.1 49.0 11.2 33.5 24.4 40.9 7.4 29.4 45.7 1.6 35.8
8.73|3.8 33.6 19.9 46.6 26.8 10.8 40.7 14.9 30.5 43.4 6.3 22.3 37.3 1.4 28.1 48.0 17.0 35.9 12.3 24.7
8.77|40.7 8.2 30.0 19.5 47.9 24.9 12.6 36.4 3.7 43.7 16.4 28.6 9.3 37.8 21.3 45.2 0.8 32.3 14.3 26.0 41.4 6.6 34.6 22.7 48.6 18.6
8.81|37.2 15.8 25.1 44.5 9.6 31.7 2.7 40.4 19.3 27.6 48.2 12.0 35.5 6.4 23.9 42.1 16.2 29.4 4.5 33.0
8.86|21.8 33.9 4.5 45.5 14.0 39.0 27.0 10.4 48.4 18.9 30.7 1.8 42.4 24.1 35.0 8.0 46.8 16.6 29.2 12.1 38.5 22.9 5.7 44.3 31.4 19.2
8.90|26.4 47.3 11.5 34.1 18.5 41.6 5.8 29.7 23.6 38.1 1.0 15.6 44.0 20.7 32.4 9.4 45.8 13.6 36.9 27.1
8.94|9.0 28.8 43.0 17.4 37.4 2.5 25.7 46.1 11.9 33.0 20.0 41.0 6.7 30.1 14.9 48.9 23.4 39.4 4.1 35.5 16.0 27.4 44.6 12.4 21.0 32.7
8.98|14.5 36.3 2.3 43.7 21.8 31.4 8.7 47.6 17.7 25.2 39.6 12.6 33.9 4.8 28.3 42.5 19.5 0.9 38.0 23.1
9.03|46.0 18.0 31.9 6.9 40.1 23.0 13.8 35.9 1.5 28.0 44.4 10.3 37.0 20.6 47.5 15.5 26.6 3.0 33.6 42.2 8.4 24.5 38.9 17.0 29.6 12.9
9.07|40.8 18.6 30.8 10.5 45.0 25.6 4.2 35.2 15.0 42.3 21.0 47.7 7.5 29.3 13.3 38.7 27.5 1.6 33.5 19.9
9.12|25.9 2.8 38.6 14.1 43.8 30.3 8.9 21.7 47.3 17.2 34.3 5.6 41.5 27.2 11.6 36.1 19.3 45.9 0.9 32.0 22.5 13.5 39.7 7.6 48.0 28.4
9.16|9.3 29.6 44.8 22.4 13.9 37.7 1.8 32.1 47.4 18.3 26.7 6.0 41.0 24.5 35.8 11.0 43.9 16.1 3.2 30.9
9.21|13.7 36.5 22.6 48.5 6.1 29.9 41.7 17.8 1.9 34.8 26.3 10.6 45.3 20.8 38.1 4.8 31.2 15.1 43.2 24.3 9.1 47.1 28.9 18.2 40.3 33.4
9.25|34.6 20.2 6.7 42.0 28.2 15.5 48.1 24.7 10.3 37.0 2.8 31.3 19.0 45.2 13.0 39.2 23.2 8.1 46.9 27.9
9.30|38.0 11.2 27.8 4.0 45.7 19.0 32.8 23.9 9.8 42.9 15.9 36.7 1.2 29.0 48.8 21.9 13.1 39.8 6.4 34.0 25.4 44.7 17.6 30.5 2.6 41.2
9.34|22.7 43.2 14.2 3.0 35.7 27.4 9.5 40.9 18.9 47.3 31.9 5.3 25.7 38.4 11.7 44.4 1.4 33.2 16.7 29.0
9.39|19.4 44.1 7.2 31.5 24.6 39.3 12.0 47.8 3.4 27.0 35.6 16.2 42.6 21.1 9.6 33.1 46.4 14.5 28.3 0.7 37.6 23.2 10.9 40.6 30.2 18.4
9.43|46.2 8.4 33.3 24.0 16.0 40.5 3.9 29.8 11.5 43.1 21.4 36.6 0.5 27.3 48.6 14.9 31.5 19.2 7.0 38.9
9.48|30.9 16.8 41.9 2.3 25.5 49.3 12.2 36.0 20.4 7.9 44.2 28.5 14.3 38.6 5.1 33.8 23.5 46.7 18.1 10.7 42.3 27.6 1.7 35.3 22.0 47.2
9.52|13.6 37.4 26.3 4.7 44.7 19.6 32.5 9.7 41.4 23.5 1.9 35.7 15.1 47.9 28.8 6.5 39.7 21.7 12.1 30.6
9.57|6.0 27.3 39.0 15.4 46.0 21.4 33.2 11.0 42.8 1.0 30.4 18.5 37.1 25.8 8.6 45.0 14.1 29.3 40.9 4.6 23.7 48.3 34.5 16.6 31.8 12.7
9.61|31.7 2.2 42.6 17.1 27.0 38.0 10.9 46.6 20.9 5.0 34.4 25.1 13.8 44.2 8.9 29.2 48.7 16.4 36.1 23.6
9.66|41.3 22.1 3.7 34.9 13.3 47.0 27.5 9.2 38.2 19.7 30.8 44.9 6.3 25.0 16.1 36.8 1.3 29.8 43.6 11.8 21.5 48.1 32.9 17.2 8.1 39.5
9.71|19.3 45.5 7.7 30.2 40.3 14.0 24.1 2.9 35.0 47.7 11.4 28.0 39.0 21.2 5.7 43.0 16.9 33.0 0.8 26.6
9.76|17.9 35.2 26.2 5.5 43.3 12.8 31.6 48.7 21.2 9.9 40.0 2.4 28.7 37.5 15.3 45.6 24.0 7.3 33.7 19.0 42.0 13.9 29.5 0.6 38.9 26.9
9.80|39.3 12.4 23.4 47.1 4.3 33.9 18.1 42.9 9.0 28.4 37.3 15.7 1.6 25.8 45.4 20.3 31.2 7.4 41.7 13.1
9.85|28.2 45.8 10.0 23.8 37.9 3.6 32.4 16.5 47.9 19.8 41.1 8.3 26.4 35.4 14.6 44.0 1.1 30.0 22.4 39.1 12.3 48.9 18.7 34.3 6.8 25.3
9.90|25.0 6.6 35.3 14.7 44.0 29.4 3.3 39.8 20.0 46.9 11.6 31.6 23.1 8.5 42.3 17.2 36.8 1.2 27.8 48.1
9.95|11.5 33.0 20.3 42.5 2.0 28.8 38.4 15.7 46.5 24.2 7.8 36.2 18.3 44.1 30.6 10.1 40.4 22.8 1.5 34.0 26.1 13.2 47.4 5.0 31.0 17.1
`;

// ---- build tables ----
const scatter = [];
scatterPairs.trim().split(/\s+/).forEach(p => {
  const [x, y] = p.split(",").map(Number);
  scatter.push({x, y});
});
scatterColumns.trim().split("\n").forEach(line => {
  const [xs, ys] = line.split("|");
  const x = +xs;
  ys.trim().split(/\s+/).forEach(y => scatter.push({x, y: +y}));
});
const dcLine = dcMedX.map((x, i) => ({x, y: dcMedY[i]}));
const vLine = vMedX.map((x, i) => ({x, v: vMedY[i]}));
const V_PER_DC = 1500 / 50;

const FONT = "'Liberation Serif', 'Times New Roman', serif";
const INK = "#1e1e1e";

const chart = Plot.plot({
  width: 903, height: 558,
  marginLeft: 87, marginRight: 103, marginTop: 17, marginBottom: 59,
  style: {fontFamily: FONT, fontSize: "27px", color: INK, background: "#fff", overflow: "visible"},
  x: {type: "log", domain: [1, 10]},
  y: {domain: [0, 50]},
  marks: [
    Plot.ruleY([10, 20, 30, 40], {stroke: "#dcdcdc", strokeWidth: 1.3}),
    Plot.dot(scatter, {x: "x", y: "y", r: 3.5, fill: "#d4d4d4"}),
    Plot.ruleY([50], {stroke: "#444", strokeWidth: 1.2}),
    Plot.ruleX([10], {stroke: "#111", strokeWidth: 1.3, strokeDasharray: "9,3"}),
    Plot.ruleX([1], {stroke: "#222", strokeWidth: 2}),
    Plot.ruleY([0], {stroke: "#222", strokeWidth: 2}),
    Plot.line(dcLine, {x: "x", y: "y", stroke: "#ff0000", strokeWidth: 5}),
    Plot.line(vLine, {x: "x", y: d => d.v / V_PER_DC, stroke: "#4472c4", strokeWidth: 5, strokeDasharray: "13.5,19", strokeLinecap: "round"}),
    Plot.axisX({ticks: xTicks, tickFormat: d => String(d), tickSize: 6, tickPadding: 8, label: null, stroke: "#222"}),
    Plot.axisY({ticks: dcTicks, tickFormat: d => String(d), tickSize: 6, tickPadding: 4, label: null, stroke: "#222"}),
    Plot.axisY(vTicks.map(v => v / V_PER_DC), {anchor: "right", tickFormat: d => String(Math.round(d * V_PER_DC)), tickSize: 6, tickPadding: 6, label: null, stroke: "#222"})
  ]
});
document.getElementById("chart").appendChild(chart);

// ---- axis labels and legend ----
const svg = d3.select(chart);

// x label
const xl = svg.append("text").attr("x", 312).attr("y", 547).attr("text-anchor", "start")
  .attr("font-family", FONT).attr("font-size", 26).attr("fill", INK);
xl.append("tspan").text("Throughput ");
xl.append("tspan").attr("font-size", 20).attr("dy", 8).text("PDCP, DL");
xl.append("tspan").attr("dy", -8).text("[Mbps]");

// left y label
svg.append("text").attr("transform", "translate(38,258) rotate(-90)").attr("text-anchor", "middle")
  .attr("font-family", FONT).attr("font-size", 31).attr("fill", INK).text("DC [s]");

// right y label
const rl = svg.append("text").attr("transform", "translate(888,264) rotate(-90)").attr("text-anchor", "middle")
  .attr("font-family", FONT).attr("font-size", 31).attr("fill", INK);
rl.append("tspan").text("V");
rl.append("tspan").attr("font-size", 21).attr("dy", 7).text("DL");
rl.append("tspan").attr("dy", -7).text("  [kBytes]");

// legend
const lg = svg.append("g");
lg.append("rect").attr("x", 588).attr("y", 355).attr("width", 189).attr("height", 116)
  .attr("fill", "#fff").attr("stroke", "#111").attr("stroke-width", 1.3);
lg.append("line").attr("x1", 588).attr("x2", 777).attr("y1", 471).attr("y2", 471)
  .attr("stroke", "#111").attr("stroke-width", 2.5);
lg.append("line").attr("x1", 612).attr("x2", 650).attr("y1", 394).attr("y2", 394)
  .attr("stroke", "#ff0000").attr("stroke-width", 5).attr("stroke-linecap", "round");
lg.append("line").attr("x1", 612).attr("x2", 652).attr("y1", 436).attr("y2", 436)
  .attr("stroke", "#4472c4").attr("stroke-width", 5).attr("stroke-linecap", "round").attr("stroke-dasharray", "13.5,19");

const l1 = lg.append("text").attr("x", 665).attr("y", 403).attr("text-anchor", "start")
  .attr("font-family", FONT).attr("font-size", 25).attr("fill", INK);
l1.append("tspan").text("DC");
l1.append("tspan").attr("x", 701).attr("y", 386).attr("font-size", 20).text("(wp)");
l1.append("tspan").attr("x", 701).attr("y", 406).attr("font-size", 16).text("mediana");

const l2 = lg.append("text").attr("x", 666).attr("y", 447).attr("text-anchor", "start")
  .attr("font-family", FONT).attr("font-size", 26).attr("fill", INK);
l2.append("tspan").text("V");
l2.append("tspan").attr("x", 688).attr("y", 431).attr("font-size", 20).text("(wp)");
l2.append("tspan").attr("x", 687).attr("y", 457).attr("font-size", 20).text("DL");
l2.append("tspan").attr("x", 715).attr("y", 460).attr("font-size", 15).text("mediana");
</script>
</body></html>
